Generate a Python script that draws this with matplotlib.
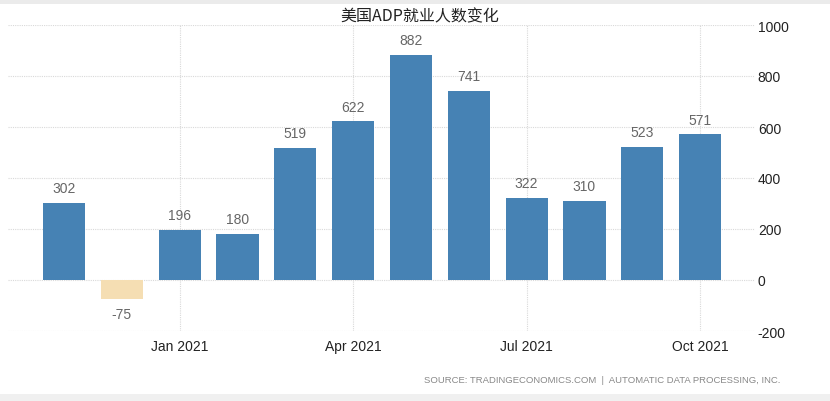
import matplotlib
matplotlib.use("Agg")
import matplotlib.pyplot as plt
from matplotlib.patches import Rectangle

months = ["Nov 2020", "Dec 2020", "Jan 2021", "Feb 2021", "Mar 2021", "Apr 2021",
          "May 2021", "Jun 2021", "Jul 2021", "Aug 2021", "Sep 2021", "Oct 2021"]
values = [302, -75, 196, 180, 519, 622, 882, 741, 322, 310, 523, 571]
tick_labels = ["Jan 2021", "Apr 2021", "Jul 2021", "Oct 2021"]
y_ticks = [-200, 0, 200, 400, 600, 800, 1000]
title = "美国ADP就业人数变化"
source = "SOURCE: TRADINGECONOMICS.COM  |  AUTOMATIC DATA PROCESSING, INC."

base = "Liberation Sans"
plt.rcParams['font.family'] = [base, 'Noto Sans CJK SC', 'DejaVu Sans']

fig = plt.figure(figsize=(8.3, 4.02), dpi=100)
fig.patch.set_facecolor("white")
fig.add_artist(Rectangle((0, 1 - 5/402), 1, 5/402, transform=fig.transFigure,
                         facecolor="#ebebeb", edgecolor="none"))
fig.add_artist(Rectangle((0, 0), 1, 7/402, transform=fig.transFigure,
                         facecolor="#f0f0f0", edgecolor="none"))

ax = fig.add_axes([8/830, 1 - 332/402, (755 - 8)/830, (332 - 26)/402])
x = list(range(len(months)))
colors = ["#4682B4" if v >= 0 else "#F5DEB3" for v in values]
ax.bar(x, values, width=0.73, color=colors, edgecolor="none", zorder=3)

for xi, v in zip(x, values):
    if v >= 0:
        ax.text(xi, v + 30, str(v), ha="center", va="bottom", fontsize=10,
                color="#666666")
    else:
        ax.text(xi, v - 30, str(v), ha="center", va="top", fontsize=10,
                color="#666666")

ax.set_xlim(-0.97, 11.95)
ax.set_ylim(-200, 1000)
ax.yaxis.tick_right()
ax.set_yticks(y_ticks)
ax.set_yticklabels([str(t) for t in y_ticks], fontsize=10, color="#222222")
tick_pos = [months.index(t) for t in tick_labels]
ax.set_xticks(tick_pos)
ax.set_xticklabels(tick_labels, fontsize=10, color="#222222")
ax.tick_params(axis="y", length=0, pad=2)
ax.tick_params(axis="x", length=0, pad=6)
ax.grid(True, color="#d9d9d9", linestyle=(0, (1, 1)), linewidth=0.8, zorder=0)
for s in ax.spines.values():
    s.set_visible(False)
ax.set_facecolor("white")

fig.text(420/830, 1 - 17/402, title, ha="center", va="center", fontsize=11.5,
         color="#222222", family=['Noto Sans CJK SC', 'DejaVu Sans'])
fig.text(780/830, 1 - 381/402, source, ha="right", va="center", fontsize=6.8,
         color="#888888")

fig.savefig("out.png", dpi=100)
